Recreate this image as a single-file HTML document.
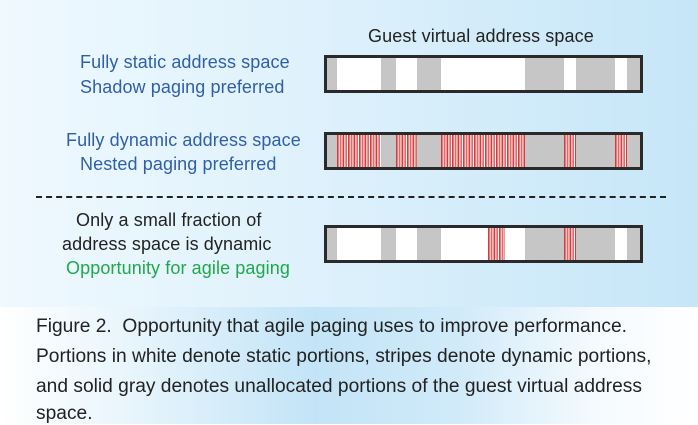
<!DOCTYPE html>
<html><head><style>
body{margin:0;width:698px;height:424px;overflow:hidden;font-family:"Liberation Sans",sans-serif;position:relative}
.top{position:absolute;left:0;top:0;width:698px;height:307px;background:linear-gradient(90deg,#eff9fe 0%,#e0f2fc 40%,#c6e6f8 100%)}
.bot{position:absolute;left:0;top:307px;width:698px;height:117px;background:linear-gradient(90deg,#fff 0%,#e6f4fc 20%,#c3e4f7 45%,#d0eaf9 65%,#f4fafe 85%,#fff 100%)}
.t{position:absolute;white-space:nowrap;font-size:18px;letter-spacing:0.1px}
.blue{color:#2f5fa6}.green{color:#1fa84a}.blk{color:#222}
.bar{position:absolute;left:324px;width:313px;height:32px;border:3px solid #2a2a2a;background:#c6c6c6}
.seg{position:absolute;top:0;height:100%}
.w{background:#fff}
.s{background:repeating-linear-gradient(90deg,#d63a3a 0 1.5px,#f3c4c4 1.5px 3px,#e06a6a 3px 4.5px,#fff 4.5px 5.5px)}
.cap{position:absolute;left:36px;font-size:19px;color:#222;white-space:nowrap;transform-origin:0 0;transform:scaleX(1.01)}
</style></head><body>
<div class="top"></div><div class="bot"></div>
<div class="t blk" style="left:368px;top:26px">Guest virtual address space</div>
<div class="t blue" style="left:80px;top:52px">Fully static address space</div>
<div class="t blue" style="left:80px;top:77px">Shadow paging preferred</div>
<div class="t blue" style="left:66px;top:130px">Fully dynamic address space</div>
<div class="t blue" style="left:80px;top:154px">Nested paging preferred</div>
<div style="position:absolute;left:36px;top:196px;width:630px;border-top:2px dashed #222"></div>
<div class="t blk" style="left:76px;top:210px">Only a small fraction of</div>
<div class="t blk" style="left:62px;top:234px">address space is dynamic</div>
<div class="t green" style="left:66px;top:258px">Opportunity for agile paging</div>

<div class="bar" style="top:55px">
<div class="seg w" style="left:10px;width:44px"></div>
<div class="seg w" style="left:69px;width:21px"></div>
<div class="seg w" style="left:114px;width:84px"></div>
<div class="seg w" style="left:237px;width:12px"></div>
<div class="seg w" style="left:288px;width:12px"></div>
</div>
<div class="bar" style="top:132px">
<div class="seg s" style="left:10px;width:44px"></div>
<div class="seg s" style="left:69px;width:21px"></div>
<div class="seg s" style="left:114px;width:84px"></div>
<div class="seg s" style="left:237px;width:12px"></div>
<div class="seg s" style="left:288px;width:12px"></div>
</div>
<div class="bar" style="top:225px">
<div class="seg w" style="left:10px;width:44px"></div>
<div class="seg w" style="left:69px;width:21px"></div>
<div class="seg w" style="left:114px;width:84px"></div>
<div class="seg s" style="left:161px;width:17px"></div>
<div class="seg s" style="left:237px;width:12px"></div>
<div class="seg w" style="left:288px;width:12px"></div>
</div>

<div class="cap" style="top:316px">Figure 2.&nbsp; Opportunity that agile paging uses to improve performance.</div>
<div class="cap" style="top:346px">Portions in white denote static portions, stripes denote dynamic portions,</div>
<div class="cap" style="top:376px">and solid gray denotes unallocated portions of the guest virtual address</div>
<div class="cap" style="top:403px">space.</div>
</body></html>
